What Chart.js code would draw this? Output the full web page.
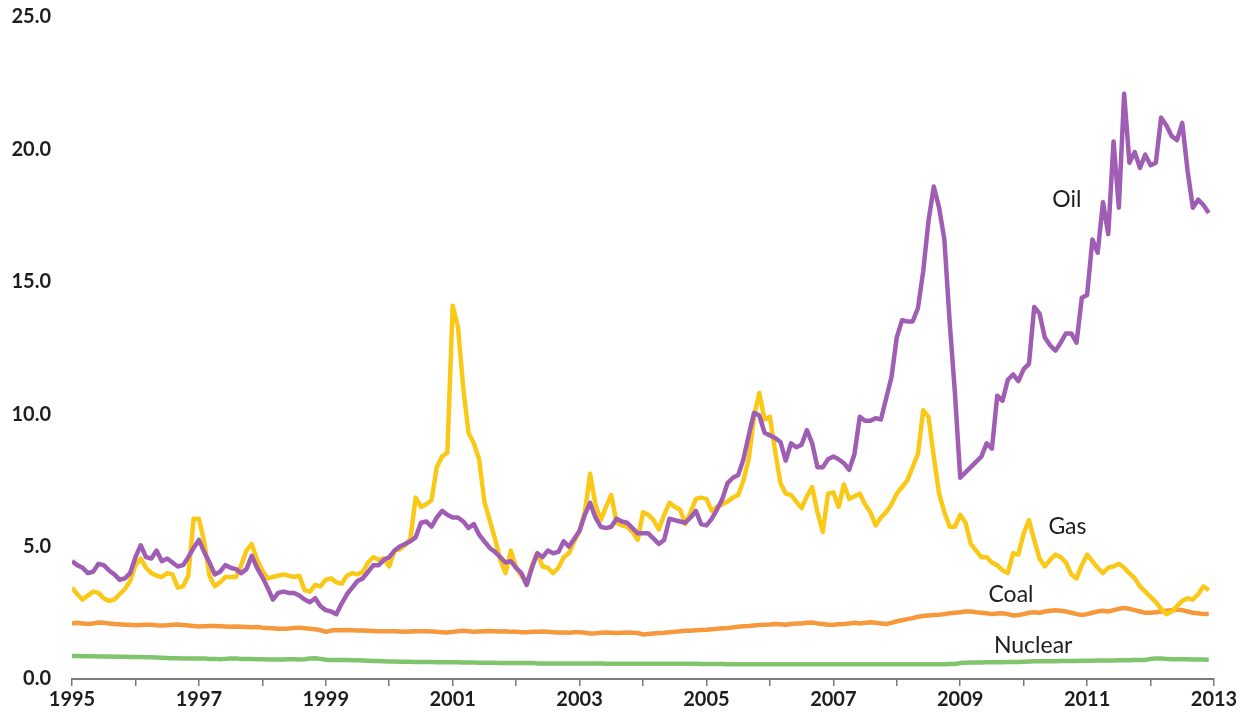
<!DOCTYPE html>
<html>
<head>
<meta charset="utf-8">
<script src="https://cdn.jsdelivr.net/npm/chart.js@4.4.1/dist/chart.umd.min.js"></script>
<style>
  html, body { margin: 0; padding: 0; background: #fff; }
  #wrap { width: 1246px; height: 719px; position: relative; }
</style>
</head>
<body>
<div id="wrap"><canvas id="myChart"></canvas></div>
<script>
// monthly values, Jan 1995 .. Dec 2012
var startYear = 1995;

var oil = [
  4.45, 4.3, 4.2, 4.0, 4.05, 4.35, 4.3, 4.1, 3.95, 3.75, 3.8, 4.0,
  4.6, 5.05, 4.6, 4.55, 4.85, 4.45, 4.55, 4.4, 4.25, 4.3, 4.6, 4.95,
  5.25, 4.8, 4.4, 3.95, 4.05, 4.3, 4.2, 4.15, 4.0, 4.15, 4.65, 4.2,
  3.85, 3.45, 3.0, 3.25, 3.3, 3.25, 3.25, 3.15, 3.0, 2.9, 3.05, 2.75,
  2.6, 2.55, 2.45, 2.85, 3.2, 3.45, 3.7, 3.8, 4.05, 4.3, 4.3, 4.5,
  4.6, 4.85, 5.0, 5.1, 5.2, 5.35, 5.9, 5.95, 5.75, 6.1, 6.35, 6.2,
  6.1, 6.1, 5.95, 5.7, 5.85, 5.45, 5.2, 4.95, 4.8, 4.6, 4.4, 4.45,
  4.2, 4.0, 3.55, 4.2, 4.75, 4.6, 4.85, 4.75, 4.8, 5.2, 5.0, 5.3,
  5.6, 6.2, 6.65, 6.1, 5.75, 5.7, 5.75, 6.05, 5.95, 5.9, 5.7, 5.5,
  5.5, 5.5, 5.3, 5.1, 5.25, 6.05, 6.0, 5.95, 5.9, 6.1, 6.35, 5.85,
  5.8, 6.05, 6.4, 6.8, 7.4, 7.6, 7.7, 8.3, 9.2, 10.05, 9.95, 9.3,
  9.2, 9.1, 8.95, 8.25, 8.9, 8.75, 8.85, 9.4, 8.9, 8.0, 8.0, 8.3,
  8.4, 8.3, 8.15, 7.9, 8.5, 9.9, 9.75, 9.75, 9.85, 9.8, 10.6, 11.4,
  12.9, 13.55, 13.5, 13.5, 14.0, 15.4, 17.3, 18.6, 17.8, 16.6, 13.5, 10.8,
  7.6, 7.8, 8.0, 8.2, 8.4, 8.9, 8.7, 10.7, 10.5, 11.3, 11.5, 11.25,
  11.7, 11.9, 14.05, 13.8, 12.9, 12.6, 12.4, 12.7, 13.05, 13.05, 12.7, 14.4,
  14.5, 16.6, 16.1, 18.0, 16.8, 20.3, 17.8, 22.1, 19.5, 19.9, 19.3, 19.8,
  19.4, 19.5, 21.2, 20.9, 20.5, 20.35, 21.0, 19.2, 17.8, 18.1, 17.9, 17.6
];

var gas = [
  3.45, 3.2, 3.0, 3.15, 3.3, 3.25, 3.05, 2.95, 3.0, 3.2, 3.4, 3.7,
  4.3, 4.55, 4.2, 4.0, 3.9, 3.85, 4.0, 3.95, 3.45, 3.5, 3.9, 6.05,
  6.05, 5.2, 3.9, 3.5, 3.65, 3.85, 3.85, 3.85, 4.3, 4.85, 5.1, 4.5,
  4.1, 3.8, 3.85, 3.9, 3.95, 3.9, 3.85, 3.9, 3.35, 3.3, 3.55, 3.5,
  3.75, 3.8, 3.65, 3.6, 3.9, 4.0, 3.95, 4.05, 4.4, 4.6, 4.5, 4.55,
  4.25, 4.85, 4.9, 5.05, 5.3, 6.85, 6.5, 6.6, 6.75, 8.0, 8.4, 8.55,
  14.1, 13.3, 11.0, 9.3, 8.9, 8.3, 6.7, 6.0, 5.3, 4.5, 4.0, 4.85,
  4.2, 3.9, 3.6, 4.3, 4.75, 4.25, 4.2, 4.0, 4.2, 4.6, 4.75, 5.2,
  5.6, 6.3, 7.75, 6.6, 6.0, 6.5, 6.95, 5.9, 5.8, 5.75, 5.55, 5.25,
  6.3, 6.2, 6.0, 5.65, 6.2, 6.65, 6.5, 6.4, 5.85, 6.3, 6.8, 6.85,
  6.8, 6.35, 6.5, 6.6, 6.7, 6.85, 6.95, 7.5, 8.3, 9.9, 10.8, 9.8,
  9.9, 8.6, 7.4, 7.0, 6.95, 6.7, 6.45, 6.9, 7.25, 6.3, 5.55, 7.0,
  7.05, 6.5, 7.35, 6.8, 6.9, 7.0, 6.6, 6.3, 5.8, 6.1, 6.3, 6.6,
  7.0, 7.25, 7.5, 8.0, 8.5, 10.15, 9.9, 8.4, 7.0, 6.3, 5.75, 5.75,
  6.2, 5.9, 5.1, 4.85, 4.6, 4.6, 4.4, 4.3, 4.1, 4.0, 4.75, 4.7,
  5.5, 6.0, 5.25, 4.55, 4.25, 4.5, 4.7, 4.6, 4.4, 3.95, 3.8, 4.3,
  4.7, 4.45, 4.2, 4.0, 4.2, 4.25, 4.35, 4.2, 4.0, 3.8, 3.5, 3.3,
  3.1, 2.9, 2.65, 2.45, 2.55, 2.75, 2.95, 3.05, 3.0, 3.2, 3.5, 3.35
];

var coal = [
  2.1, 2.12, 2.1, 2.08, 2.1, 2.13, 2.12, 2.1, 2.08, 2.07, 2.05, 2.05,
  2.03, 2.04, 2.05, 2.05, 2.03, 2.02, 2.03, 2.05, 2.06, 2.04, 2.02, 2.0,
  1.98, 1.99, 2.0, 2.0, 1.99, 1.98, 1.97, 1.98, 1.97, 1.96, 1.95, 1.96,
  1.94, 1.93, 1.92, 1.9, 1.9, 1.91, 1.93, 1.94, 1.92, 1.9, 1.88, 1.84,
  1.78, 1.83, 1.85, 1.84, 1.85, 1.84, 1.83, 1.83, 1.82, 1.81, 1.8, 1.8,
  1.8, 1.8, 1.79, 1.78, 1.79, 1.8, 1.8, 1.8, 1.79, 1.78, 1.77, 1.76,
  1.78, 1.8, 1.82, 1.8, 1.78, 1.79, 1.8, 1.81, 1.8, 1.79, 1.8, 1.78,
  1.78, 1.77, 1.77, 1.78, 1.78, 1.79, 1.78, 1.77, 1.76, 1.76, 1.75, 1.77,
  1.77, 1.75, 1.72, 1.73, 1.75, 1.76, 1.75, 1.74, 1.75, 1.76, 1.75, 1.74,
  1.68, 1.7, 1.72, 1.74, 1.75, 1.77, 1.78, 1.8, 1.82, 1.82, 1.84, 1.85,
  1.86, 1.88, 1.9, 1.92, 1.93, 1.95, 1.97, 1.99, 2.0, 2.02, 2.04, 2.05,
  2.06, 2.08, 2.07, 2.05, 2.08, 2.1, 2.1, 2.12, 2.13, 2.1, 2.08, 2.05,
  2.05, 2.07, 2.08, 2.1, 2.12, 2.1, 2.12, 2.14, 2.12, 2.1, 2.08, 2.12,
  2.18, 2.22, 2.26, 2.3, 2.35, 2.38, 2.4, 2.42, 2.43, 2.45, 2.48, 2.5,
  2.52, 2.55, 2.55, 2.52, 2.5, 2.48, 2.45, 2.47, 2.48, 2.45, 2.4, 2.42,
  2.45, 2.5, 2.52, 2.5, 2.55, 2.58, 2.6, 2.58, 2.55, 2.5, 2.45, 2.42,
  2.45, 2.5, 2.55, 2.58, 2.55, 2.6, 2.65, 2.68, 2.65, 2.6, 2.55, 2.5,
  2.5, 2.52, 2.55, 2.58, 2.6, 2.62, 2.6, 2.55, 2.5, 2.48, 2.45, 2.45
];

var nuclear = [
  0.87, 0.87, 0.86, 0.86, 0.86, 0.85, 0.85, 0.85, 0.84, 0.84, 0.84, 0.83,
  0.83, 0.83, 0.82, 0.82, 0.81, 0.8, 0.79, 0.78, 0.78, 0.77, 0.77, 0.77,
  0.77, 0.77, 0.76, 0.76, 0.75, 0.76, 0.77, 0.77, 0.76, 0.76, 0.76, 0.75,
  0.75, 0.74, 0.74, 0.74, 0.74, 0.75, 0.75, 0.74, 0.75, 0.77, 0.78, 0.76,
  0.73, 0.72, 0.72, 0.72, 0.72, 0.71, 0.71, 0.7, 0.69, 0.68, 0.68, 0.67,
  0.66, 0.66, 0.65, 0.65, 0.65, 0.64, 0.64, 0.64, 0.64, 0.63, 0.63, 0.63,
  0.63, 0.63, 0.62, 0.62, 0.62, 0.61, 0.61, 0.61, 0.61, 0.6, 0.6, 0.6,
  0.6, 0.6, 0.6, 0.6, 0.59, 0.59, 0.59, 0.59, 0.59, 0.59, 0.59, 0.59,
  0.59, 0.59, 0.59, 0.59, 0.59, 0.58, 0.58, 0.58, 0.58, 0.58, 0.58, 0.58,
  0.58, 0.58, 0.58, 0.58, 0.58, 0.58, 0.58, 0.58, 0.58, 0.58, 0.58, 0.57,
  0.57, 0.57, 0.57, 0.57, 0.56, 0.56, 0.56, 0.56, 0.56, 0.56, 0.56, 0.56,
  0.56, 0.56, 0.56, 0.56, 0.56, 0.56, 0.56, 0.56, 0.56, 0.56, 0.56, 0.56,
  0.56, 0.56, 0.56, 0.56, 0.56, 0.56, 0.56, 0.56, 0.56, 0.56, 0.56, 0.56,
  0.56, 0.56, 0.56, 0.56, 0.56, 0.56, 0.56, 0.56, 0.56, 0.56, 0.57, 0.57,
  0.6, 0.61, 0.62, 0.62, 0.62, 0.63, 0.63, 0.63, 0.63, 0.64, 0.64, 0.64,
  0.65, 0.66, 0.67, 0.67, 0.67, 0.67, 0.67, 0.68, 0.68, 0.68, 0.68, 0.69,
  0.69, 0.69, 0.7, 0.7, 0.7, 0.7, 0.71, 0.71, 0.71, 0.72, 0.72, 0.72,
  0.76, 0.77, 0.77, 0.76, 0.75, 0.75, 0.75, 0.75, 0.74, 0.74, 0.74, 0.73
];

var seriesNames = ["Oil", "Gas", "Coal", "Nuclear"];
var seriesColors = ["#a05db4", "#fac917", "#f6983c", "#80c46c"];

// where each inline label sits, in data units (year, value)
var lineLabels = [
  { text: "Oil", x: 2010.68, y: 18.1 },
  { text: "Gas", x: 2010.69, y: 5.74 },
  { text: "Coal", x: 2009.8, y: 3.17 },
  { text: "Nuclear", x: 2010.15, y: 1.25 }
];

function toPoints(values) {
  return values.map(function (v, i) {
    return { x: startYear + i / 12, y: v };
  });
}

var allSeries = [oil, gas, coal, nuclear];
var datasets = allSeries.map(function (vals, k) {
  return {
    label: seriesNames[k],
    data: toPoints(vals),
    borderColor: seriesColors[k],
    backgroundColor: seriesColors[k],
    borderWidth: 4.5,
    pointRadius: 0,
    tension: 0,
    fill: false,
    borderJoinStyle: "round"
  };
});

// draws the series names next to the lines
var labelPlugin = {
  id: "lineLabels",
  afterDatasetsDraw: function (chart) {
    var c = chart.ctx;
    var xs = chart.scales.x, ys = chart.scales.y;
    c.save();
    c.font = "23px Lato, 'Open Sans', sans-serif";
    c.fillStyle = "#1e1e1e";
    c.textAlign = "center";
    c.textBaseline = "middle";
    lineLabels.forEach(function (l) {
      c.fillText(l.text, xs.getPixelForValue(l.x), ys.getPixelForValue(l.y));
    });
    c.restore();
  }
};

var tickFont = { family: "Lato, 'Open Sans', sans-serif", size: 20, weight: "bold" };

var chart = new Chart(document.getElementById("myChart"), {
  type: "line",
  data: { datasets: datasets },
  options: {
    responsive: true,
    maintainAspectRatio: false,
    animation: false,
    layout: { padding: { top: 17, right: 32, bottom: 0, left: 0 } },
    plugins: {
      legend: { display: false },
      tooltip: { enabled: false }
    },
    scales: {
      x: {
        type: "linear",
        min: 1995,
        max: 2013,
        afterFit: function (s) { s.height = 40; },
        ticks: {
          stepSize: 1,
          autoSkip: false,
          maxRotation: 0,
          padding: 2,
          color: "#1e1e1e",
          font: tickFont,
          callback: function (v) { return v % 2 === 1 ? String(v) : ""; }
        },
        grid: {
          display: true,
          drawOnChartArea: false,
          drawTicks: true,
          tickLength: 7,
          color: "#7a7a7a",
          lineWidth: 1.5
        },
        border: { display: true, color: "#7a7a7a", width: 2 }
      },
      y: {
        min: 0,
        max: 25,
        afterFit: function (s) { s.width = 72; },
        ticks: {
          stepSize: 5,
          padding: 0,
          color: "#1e1e1e",
          font: tickFont,
          callback: function (v) { return v.toFixed(1); }
        },
        // hidden grid, its tick length only sets the gap before the labels
        grid: { display: false, drawTicks: true, tickLength: 21 },
        border: { display: false }
      }
    }
  },
  plugins: [labelPlugin]
});
</script>
</body>
</html>
